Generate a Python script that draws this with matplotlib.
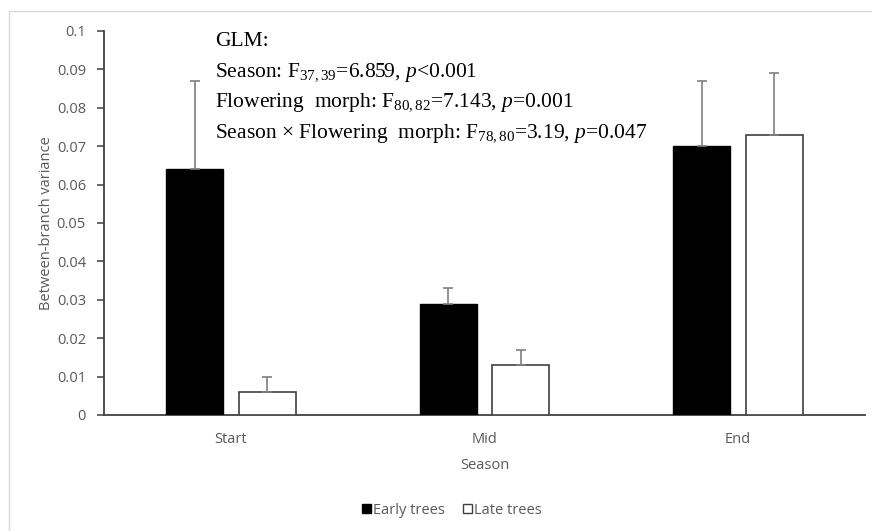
import matplotlib
matplotlib.use("Agg")
import matplotlib.pyplot as plt
import numpy as np
from matplotlib.patches import Rectangle, Patch

seasons = ["Start", "Mid", "End"]
early = [0.064, 0.029, 0.070]
early_err = [0.023, 0.004, 0.017]
late = [0.006, 0.013, 0.073]
late_err = [0.004, 0.004, 0.016]
yticks = [0, 0.01, 0.02, 0.03, 0.04, 0.05, 0.06, 0.07, 0.08, 0.09, 0.1]
ytick_labels = ["0", "0.01", "0.02", "0.03", "0.04", "0.05", "0.06", "0.07", "0.08", "0.09", "0.1"]

SANS = ["Open Sans", "DejaVu Sans"]
SERIF = ["Liberation Serif", "DejaVu Serif"]
GREY_TXT = "#595959"
EDGE = "#404040"
ERR = "#7f7f7f"
FS = 10.5

plt.rcParams["mathtext.fontset"] = "custom"
plt.rcParams["mathtext.rm"] = "Liberation Serif"
plt.rcParams["mathtext.it"] = "Liberation Serif:italic"

fig = plt.figure(figsize=(8.72, 5.31), dpi=100)
fig.patches.append(Rectangle((9 / 872, -0.1), 1.2, 1 - 11 / 531 + 0.1,
                             transform=fig.transFigure, fill=False,
                             edgecolor="#d9d9d9", lw=1.0))
ax = fig.add_axes([104 / 872, 1 - 415 / 531, 761 / 872, 384 / 531])

x = np.arange(len(seasons))
w = 0.225
off = 0.143
err_kw = dict(ecolor=ERR, capsize=3.5, elinewidth=1.2, capthick=1.2)
ax.bar(x - off, early, w, color="black", edgecolor="black", lw=1.0,
       yerr=[np.zeros(3), early_err], error_kw=err_kw, zorder=3)
ax.bar(x + off, late, w, color="white", edgecolor=EDGE, lw=1.2,
       yerr=[np.zeros(3), late_err], error_kw=err_kw, zorder=3)

ax.set_xlim(-0.5, 2.5)
ax.set_ylim(0, 0.1)
ax.set_yticks(yticks)
ax.set_yticklabels(ytick_labels)
ax.set_xticks(x)
ax.set_xticklabels(seasons)
ax.tick_params(axis="x", length=0, pad=12, labelsize=FS, labelcolor=GREY_TXT)
ax.tick_params(axis="y", length=5, width=1.1, color=EDGE, pad=8,
               labelsize=FS, labelcolor=GREY_TXT)
for lab in ax.get_xticklabels() + ax.get_yticklabels():
    lab.set_family(SANS)
for s in ("top", "right"):
    ax.spines[s].set_visible(False)
for s in ("left", "bottom"):
    ax.spines[s].set_color(EDGE)
    ax.spines[s].set_linewidth(1.3)

ax.set_ylabel("Between-branch variance", family=SANS, fontsize=FS,
              color=GREY_TXT, labelpad=2)
ax.set_xlabel("Season", family=SANS, fontsize=FS, color=GREY_TXT, labelpad=8)

# GLM annotation
lines = [
    "GLM:",
    r"Season: F$_{37,39}$=6.859, $p$<0.001",
    r"Flowering  morph: F$_{80,82}$=7.143, $p$=0.001",
    r"Season $\times$ Flowering  morph: F$_{78,80}$=3.19, $p$=0.047",
]
for i, t in enumerate(lines):
    fig.text(215 / 872, 1 - (46 + 30.7 * i) / 531, t, family=SERIF,
             fontsize=15.5, color="black", va="baseline", ha="left")

handles = [Patch(facecolor="black", edgecolor="black", label="Early trees"),
           Patch(facecolor="white", edgecolor=EDGE, label="Late trees")]
leg = fig.legend(handles=handles, loc="center", bbox_to_anchor=(452 / 872, 1 - 510 / 531),
                 ncol=2, frameon=False, handlelength=0.65, handleheight=0.65,
                 handletextpad=0.15, columnspacing=1.2,
                 prop={"family": SANS, "size": FS})
for t in leg.get_texts():
    t.set_color(GREY_TXT)

fig.savefig("out.png", dpi=100, facecolor="white")
